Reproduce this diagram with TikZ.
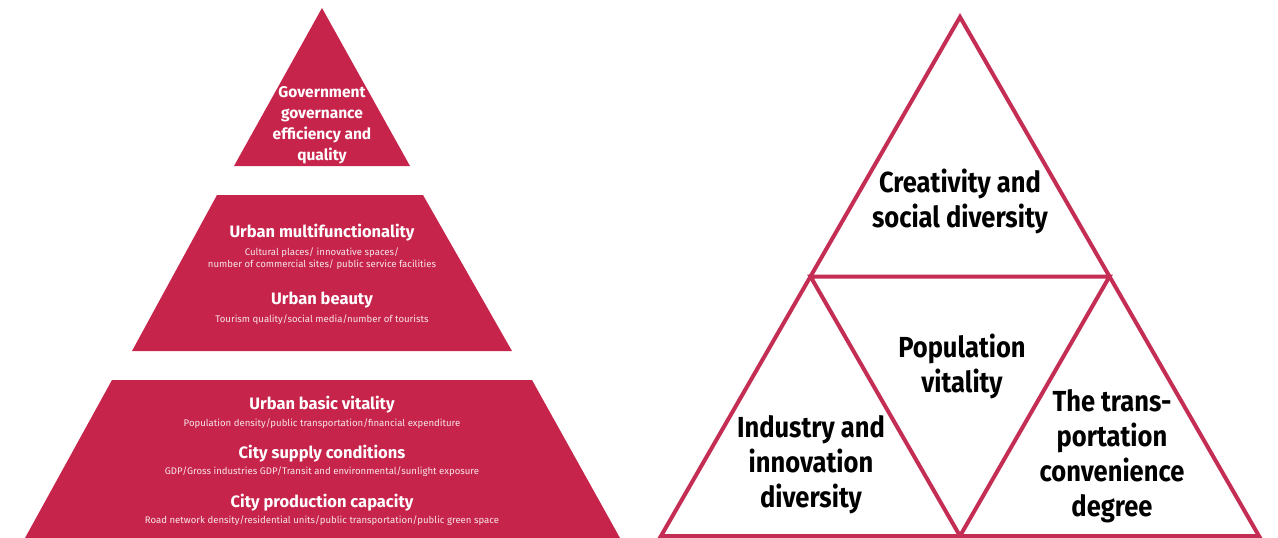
\documentclass[tikz,border=0pt]{standalone}
\usepackage{fontspec}
\setmainfont{Fira Sans}
\newfontfamily\condfont[FakeStretch=0.88]{Fira Sans}
\definecolor{pyrred}{RGB}{199,36,76}
\definecolor{triline}{RGB}{196,46,84}
\usepackage{tikz}
\usetikzlibrary{positioning}

\begin{document}
\begin{tikzpicture}[x=1pt, y=-1pt,
      band/.style={fill=pyrred},
      head/.style={text=white, font=\fontsize{16.5}{18}\selectfont\bfseries, align=center, inner sep=0pt},
      note/.style={text=white!88!pyrred, font=\fontsize{9.6}{12}\selectfont, align=center, inner sep=0pt},
      edge/.style={draw=triline, line width=4pt, line join=miter},
      lbl/.style={font=\fontsize{29}{35}\selectfont\condfont\bfseries, align=center, inner sep=0pt}
  ]
    \useasboundingbox (0,0) rectangle (1278,538);

    % left pyramid
    \fill[band] (322,8) -- (410,166) -- (234,166) -- cycle;
    \fill[band] (217,195) -- (423,195) -- (512,351) -- (132,351) -- cycle;
    \fill[band] (112,380) -- (532,380) -- (620,538) -- (25,538) -- cycle;

    \node[head, font=\fontsize{15.5}{21}\selectfont\bfseries] (gov) at (322,125)
      {Government\\ governance\\ efficiency and\\ quality};

    \node[head] (multi) at (322,233) {Urban multifunctionality};
    \node[note, below=6pt of multi] (multin)
      {Cultural places/ innovative spaces/\\ number of commercial sites/ public service facilities};
    \node[head] (beauty) at (322,300) {Urban beauty};
    \node[note, below=6pt of beauty] (beautyn) {Tourism quality/social media/number of tourists};

    \node[head] (basic) at (322,405) {Urban basic vitality};
    \node[note, below=5pt of basic] (basicn)
      {Population density/public transportation/financial expenditure};
    \node[head] (supply) at (322,454) {City supply conditions};
    \node[note, below=4pt of supply] (supplyn)
      {GDP/Gross industries GDP/Transit and environmental/sunlight exposure};
    \node[head] (prod) at (322,503) {City production capacity};
    \node[note, below=4pt of prod] (prodn)
      {Road network density/residential units/public transportation/public green space};

    % right triangle
    \coordinate (top) at (960,17);
    \coordinate (bl) at (661,536);
    \coordinate (br) at (1259,536);
    \coordinate (ml) at (810.5,276.5);
    \coordinate (mr) at (1109.5,276.5);
    \coordinate (mb) at (960,536);
    \draw[edge] (top) -- (br) -- (bl) -- cycle;
    \draw[edge] (ml) -- (mr) -- (mb) -- cycle;

    \node[lbl] (creat) at (960,201) {Creativity and\\ social diversity};
    \node[lbl] (popu) at (962,366) {Population\\ vitality};
    \node[lbl] (indu) at (811,465) {Industry and\\ innovation\\ diversity};
    \node[lbl] (trans) at (1112,456) {The trans-\\ portation\\ convenience\\ degree};
  \end{tikzpicture}
\end{document}
